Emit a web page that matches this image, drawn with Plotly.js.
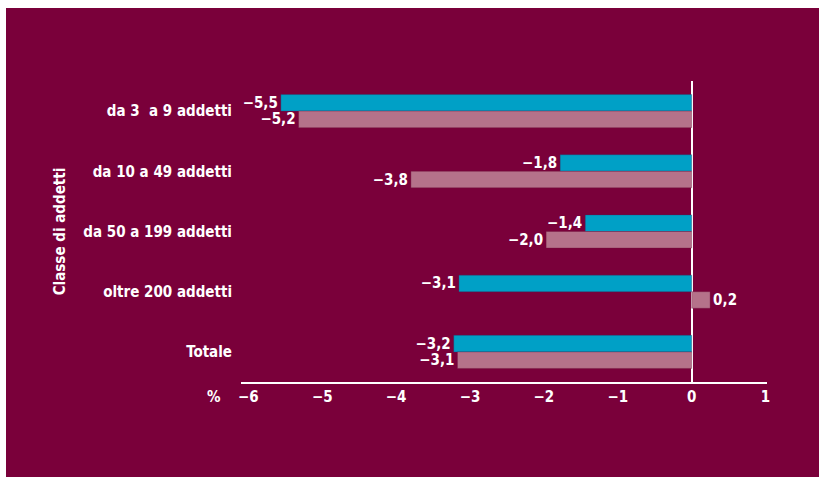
<!DOCTYPE html>
<html>
<head>
<meta charset="utf-8">
<script src="https://cdn.plot.ly/plotly-3.0.1.min.js"></script>
<style>
  html, body { margin: 0; padding: 0; background: #ffffff; width: 819px; height: 477px; overflow: hidden; }
  #chart { position: absolute; left: 6px; top: 8px; width: 813px; height: 469px; }
</style>
</head>
<body>
<div id="chart"></div>
<script>
const categories = ["da 3  a 9 addetti", "da 10 a 49 addetti", "da 50 a 199 addetti", "oltre 200 addetti", "Totale"];
// bar lengths as drawn in the picture
const seriesBlue = [-5.56, -1.78, -1.44, -3.15, -3.22];
const seriesPink = [-5.32, -3.80, -1.97, 0.25, -3.17];
// values printed next to the bars
const labelsBlue = ["−5,5", "−1,8", "−1,4", "−3,1", "−3,2"];
const labelsPink = ["−5,2", "−3,8", "−2,0", "0,2", "−3,1"];
const xTickVals = [-6, -5, -4, -3, -2, -1, 0, 1];

const FONT = '"DejaVu Sans Condensed", "DejaVu Sans", "Open Sans", sans-serif';
const BG = '#7a003a';

const common = {
  type: 'bar',
  orientation: 'h',
  y: categories,
  texttemplate: '<b>%{text}</b>',
  textposition: 'outside',
  constraintext: 'none',
  cliponaxis: false,
  textfont: { family: FONT, size: 15, color: '#ffffff' },
  hoverinfo: 'skip',
  showlegend: false
};

const traces = [
  Object.assign({}, common, { x: seriesBlue, text: labelsBlue,
    marker: { color: '#00a0c6', line: { width: 0.6, color: 'rgba(40,60,110,0.6)' } } }),
  Object.assign({}, common, { x: seriesPink, text: labelsPink,
    marker: { color: '#b5728a', line: { width: 0.6, color: 'rgba(110,20,60,0.6)' } } })
];

const layout = {
  width: 813,
  height: 469,
  paper_bgcolor: BG,
  plot_bgcolor: BG,
  separators: ',.',
  barmode: 'group',
  bargap: 0.45,
  bargroupgap: 0,
  margin: { l: 235, r: 52, t: 73, b: 95, pad: 0 },
  font: { family: FONT, color: '#ffffff', size: 15 },
  xaxis: {
    range: [-6.1, 1.02],
    tickvals: xTickVals,
    tickformat: '.0f',
    showgrid: false,
    zeroline: true,
    zerolinecolor: '#ffffff',
    zerolinewidth: 2,
    showline: true,
    linecolor: '#ffffff',
    linewidth: 2,
    ticks: '',
    tickfont: { family: FONT, size: 15, color: '#ffffff', weight: 'bold' },
    fixedrange: true
  },
  yaxis: {
    autorange: 'reversed',
    showgrid: false,
    zeroline: false,
    showline: false,
    ticks: '',
    ticklabelstandoff: 8,
    tickfont: { family: FONT, size: 15, color: '#ffffff', weight: 'bold' },
    title: { text: '<b>Classe di addetti</b>', font: { family: FONT, size: 15, color: '#ffffff' }, standoff: 14 },
    fixedrange: true
  },
  annotations: [
    { text: '<b>%</b>', xref: 'paper', yref: 'paper', x: -0.051, y: -0.05, xanchor: 'center', yanchor: 'middle',
      showarrow: false, font: { family: FONT, size: 15, color: '#ffffff' } }
  ]
};

Plotly.newPlot('chart', traces, layout, { displayModeBar: false, staticPlot: true });
</script>
</body>
</html>
